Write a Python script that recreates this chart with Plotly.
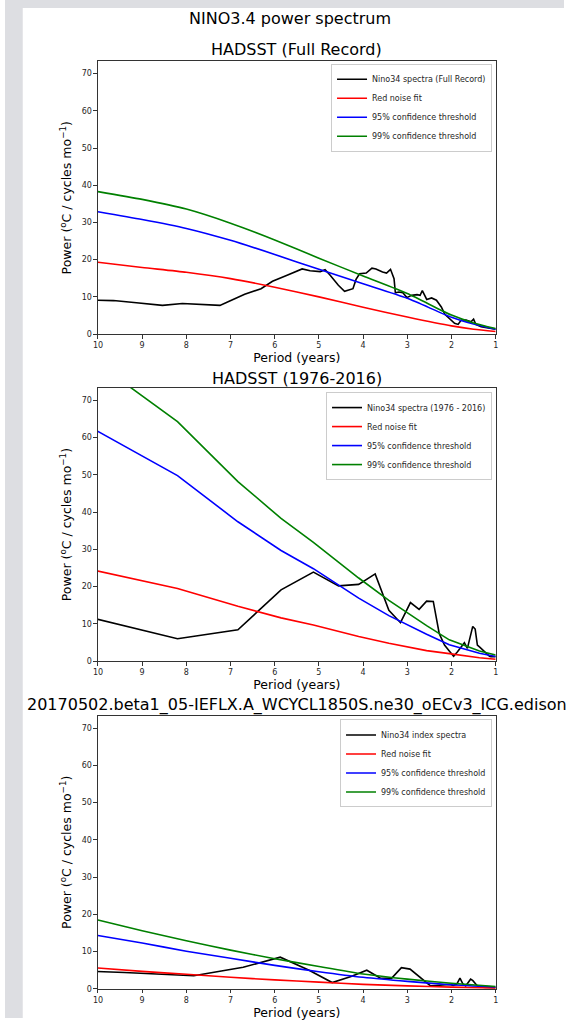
import plotly.graph_objects as go

# ---------------- data ----------------
# Panel 1: HADSST (Full Record)
p1_period = [10.0, 9.65, 9.13, 8.54, 8.09, 7.87, 7.24, 6.98, 6.68, 6.31, 6.05, 5.72, 5.38, 5.20,
             4.97, 4.86, 4.75, 4.56, 4.42, 4.23, 4.16, 4.08, 3.93, 3.80, 3.71, 3.56, 3.47, 3.38,
             3.30, 3.27, 3.19, 3.10, 3.01, 2.90, 2.78, 2.71, 2.66, 2.56, 2.45, 2.34, 2.23, 2.15,
             2.04, 1.93, 1.85, 1.78, 1.67, 1.56, 1.50, 1.45, 1.33, 1.19, 1.02, 1.0]
p1_spec = [9.1, 9.0, 8.4, 7.7, 8.2, 8.1, 7.7, 9.1, 10.7, 12.2, 14.2, 15.8, 17.5, 17.0,
           16.8, 17.3, 15.9, 13.1, 11.5, 12.2, 14.7, 16.2, 16.4, 17.7, 17.5, 16.7, 16.4, 17.4,
           14.9, 11.1, 11.3, 11.1, 9.8, 10.4, 10.6, 10.4, 11.7, 9.3, 9.7, 9.1, 7.3, 5.3,
           4.2, 2.9, 2.6, 3.8, 3.8, 3.3, 4.0, 2.6, 2.0, 1.7, 1.35, 1.3]
p1_fit_period = [10, 9, 8, 7, 6, 5, 4, 3, 2, 1.5, 1]
p1_red = [19.3, 17.9, 16.6, 14.9, 12.6, 10.0, 7.2, 4.6, 2.2, 1.3, 0.7]
p1_c95 = [32.9, 30.8, 28.4, 25.2, 21.4, 17.4, 13.5, 9.6, 4.5, 2.7, 1.3]
p1_c99 = [38.3, 36.2, 33.6, 29.8, 25.3, 20.4, 15.6, 10.9, 5.1, 3.0, 1.5]

# Panel 2: HADSST (1976-2016)
p2_period = [10.25, 8.2, 6.833, 5.857, 5.125, 4.556, 4.1, 3.727, 3.417, 3.154, 2.929, 2.733,
             2.563, 2.412, 2.278, 2.158, 2.05, 1.952, 1.864, 1.783, 1.708, 1.64, 1.577, 1.519,
             1.464, 1.414, 1.367, 1.323, 1.281, 1.242, 1.206, 1.171, 1.139, 1.108, 1.079,
             1.051, 1.025, 1.0]
p2_spec = [11.9, 6.0, 8.4, 19.1, 23.9, 20.2, 20.6, 23.4, 13.6, 10.3, 15.7, 13.9,
           16.1, 16.0, 7.4, 4.3, 2.7, 1.3, 2.5, 3.7, 4.9, 3.4, 6.3, 9.3,
           8.6, 4.3, 3.8, 3.3, 2.8, 2.3, 1.8, 1.5, 1.3, 1.15, 1.2,
           1.3, 1.3, 1.2]
p2_fit_period = [10.25, 8.2, 6.833, 5.857, 5.125, 4.556, 4.1, 3.417, 2.929, 2.563, 2.05, 1.708, 1.367, 1.0]
p2_red = [24.8, 19.5, 14.7, 11.6, 9.7, 8.0, 6.6, 4.8, 3.7, 2.8, 2.0, 1.4, 0.9, 0.5]
p2_c95 = [63.3, 49.8, 37.4, 29.7, 24.8, 20.4, 16.9, 12.2, 9.3, 7.2, 4.4, 3.2, 2.1, 1.2]
p2_c99 = [82.0, 64.3, 48.2, 38.3, 31.9, 26.6, 22.3, 16.3, 12.4, 9.5, 5.7, 4.1, 2.7, 1.6]

# Panel 3: model run
p3_period = [11.75, 9.4, 7.833, 6.714, 5.875, 5.222, 4.7, 4.273, 3.917, 3.615, 3.357, 3.133,
             2.938, 2.765, 2.611, 2.474, 2.35, 2.238, 2.136, 2.043, 1.958, 1.88, 1.808, 1.741,
             1.679, 1.621, 1.567, 1.516, 1.469, 1.424, 1.382, 1.343, 1.306, 1.27, 1.237, 1.205,
             1.175, 1.146, 1.119, 1.093, 1.068, 1.044, 1.022, 1.0]
p3_spec = [5.4, 4.4, 3.5, 5.8, 8.5, 5.0, 1.7, 3.3, 5.0, 2.9, 2.8, 5.7,
           5.3, 3.6, 1.9, 0.8, 0.9, 1.0, 1.1, 1.2, 0.9, 1.3, 2.9, 1.3,
           0.8, 1.7, 2.6, 2.2, 1.5, 0.9, 0.6, 0.5, 0.45, 0.4, 0.4, 0.35,
           0.35, 0.3, 0.3, 0.3, 0.3, 0.3, 0.25, 0.3]
p3_fit_period = [10, 9, 8, 7, 6, 5, 4, 3, 2, 1]
p3_red = [5.6, 4.7, 3.9, 3.1, 2.4, 1.8, 1.2, 0.8, 0.45, 0.2]
p3_c95 = [14.3, 12.3, 10.1, 8.2, 6.3, 4.6, 3.1, 2.0, 1.1, 0.5]
p3_c99 = [18.5, 15.6, 12.9, 10.4, 8.1, 6.0, 4.0, 2.6, 1.5, 0.65]

x_ticks = [1, 2, 3, 4, 5, 6, 7, 8, 9, 10]
y_ticks = [0, 10, 20, 30, 40, 50, 60, 70]

main_title = "NINO3.4 power spectrum"
panel_titles = ["HADSST (Full Record)", "HADSST (1976-2016)",
                "20170502.beta1_05-IEFLX.A_WCYCL1850S.ne30_oECv3_ICG.edison"]
spec_names = ["Nino34 spectra (Full Record)", "Nino34 spectra (1976 - 2016)", "Nino34 index spectra"]

# ---------------- figure ----------------
W, H = 567, 1023
FONT = "DejaVu Sans"
fig = go.Figure()

panels = [
    (p1_period, p1_spec, p1_fit_period, p1_red, p1_c95, p1_c99, "spline"),
    (p2_period, p2_spec, p2_fit_period, p2_red, p2_c95, p2_c99, "linear"),
    (p3_period, p3_spec, p3_fit_period, p3_red, p3_c95, p3_c99, "spline"),
]

# pixel geometry
ax_left, ax_right = 94.3, 497.7
tops = [61.7, 390.0, 719.3]
bottoms = [335.7, 664.3, 993.7]
title_y = [50, 380, 708]
legend_top = [64, 394, 723]

def fx(px):
    return px / W

def fy(py):
    return 1 - py / H

LW = 1.6
for i, (per, spec, fper, red, c95, c99, shape) in enumerate(panels):
    n = "" if i == 0 else str(i + 1)
    xa, ya = "x" + n, "y" + n
    lg = "legend" + n
    fig.add_trace(go.Scatter(x=per, y=spec, mode="lines", name=spec_names[i],
                             line=dict(color="black", width=LW), xaxis=xa, yaxis=ya, legend=lg))
    fig.add_trace(go.Scatter(x=fper, y=red, mode="lines", name="Red noise fit",
                             line=dict(color="#ff0000", width=LW, shape=shape, smoothing=0.6),
                             xaxis=xa, yaxis=ya, legend=lg))
    fig.add_trace(go.Scatter(x=fper, y=c95, mode="lines", name="95% confidence threshold",
                             line=dict(color="#0000ff", width=LW, shape=shape, smoothing=0.6),
                             xaxis=xa, yaxis=ya, legend=lg))
    fig.add_trace(go.Scatter(x=fper, y=c99, mode="lines", name="99% confidence threshold",
                             line=dict(color="#008000", width=LW, shape=shape, smoothing=0.6),
                             xaxis=xa, yaxis=ya, legend=lg))

    axis_common = dict(showline=True, linecolor="#333333", linewidth=1, mirror=True,
                       ticks="outside", ticklen=3.5, tickwidth=0.8, tickcolor="#333333",
                       showgrid=False, zeroline=False,
                       tickfont=dict(family=FONT, size=8, color="#262626"))
    fig.layout["xaxis" + n] = dict(axis_common, domain=[fx(ax_left), fx(ax_right)],
                                   range=[10, 1], tickvals=x_ticks, anchor=ya,
                                   title=dict(text="Period (years)", standoff=3,
                                              font=dict(family=FONT, size=12.5, color="black")))
    fig.layout["yaxis" + n] = dict(axis_common, domain=[fy(bottoms[i]), fy(tops[i])],
                                   range=[0, 73.3], tickvals=y_ticks, anchor=xa,
                                   title=dict(text="Power (<sup>o</sup>C / cycles mo<sup>\u22121</sup>)",
                                              standoff=7,
                                              font=dict(family=FONT, size=12.5, color="black")))
    fig.layout[lg] = dict(x=fx(494), xanchor="right", y=fy(legend_top[i]), yanchor="top",
                          bgcolor="rgba(255,255,255,0.85)", bordercolor="#cccccc", borderwidth=1,
                          font=dict(family=FONT, size=8, color="#262626"),
                          itemwidth=30, tracegroupgap=0)
    fig.add_annotation(text=panel_titles[i], xref="paper", yref="paper",
                       x=fx((ax_left + ax_right) / 2), y=fy(title_y[i]),
                       xanchor="center", yanchor="middle", showarrow=False,
                       font=dict(family=FONT, size=16, color="black"))

fig.add_annotation(text=main_title, xref="paper", yref="paper", x=fx(289), y=fy(19),
                   xanchor="center", yanchor="middle", showarrow=False,
                   font=dict(family=FONT, size=16, color="black"))

# surrounding grey window background
fig.add_shape(type="rect", xref="paper", yref="paper", x0=0, x1=fx(18), y0=0, y1=1,
              fillcolor="#dddee2", line=dict(width=0), layer="below")
fig.add_shape(type="rect", xref="paper", yref="paper", x0=0, x1=1, y0=fy(8), y1=1,
              fillcolor="#dddee2", line=dict(width=0), layer="below")

fig.update_layout(width=W, height=H, margin=dict(l=0, r=0, t=0, b=0), autosize=False,
                  paper_bgcolor="white", plot_bgcolor="white", showlegend=True,
                  font=dict(family=FONT))

fig.write_html("out.html",
               config={"displayModeBar": False},
               post_script="document.body.style.margin='0';"
                           "document.body.style.padding='0';"
                           "document.body.style.overflow='hidden';"
                           "document.documentElement.style.overflow='hidden';")
